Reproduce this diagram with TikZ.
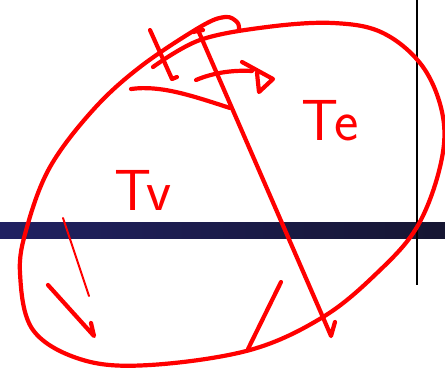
\documentclass[tikz,border=0pt]{standalone}
\usepackage{tikz}
\usetikzlibrary{calc}

\definecolor{barleft}{RGB}{32,33,98}
\definecolor{barright}{RGB}{22,22,50}

\tikzset{
    pen/.style={red, line width=4.2pt, line cap=round, line join=round},
    thinpen/.style={red, line width=2pt, line cap=round, line join=round},
    label/.style={red, inner sep=0pt, font=\sffamily\fontsize{58}{58}\selectfont}
}

\begin{document}
\begin{tikzpicture}[x=1pt,y=-1pt]
    %----------------------------------------
    % FRAME (445 x 376, y pointing down)
    %----------------------------------------
    \useasboundingbox (0,0) rectangle (445,376);

    % dark bar across the page
    \shade[left color=barleft, right color=barright] (0,222) rectangle (445,238);

    % black vertical line on the right
    \draw[black, line width=2.4pt] (417,0) -- (417,285);

    %----------------------------------------
    % BIG LOOP (one stroke, open at the top)
    %----------------------------------------
    \draw[pen] plot[smooth, tension=0.6] coordinates {
        (153,67) (200,40) (267,27) (333,23) (383,33) (423,67)
        (443,117) (440,167) (417,227) (377,273) (323,317)
        (250,350) (150,365) (83,360) (33,330) (20,273) (27,227)
        (50,167) (93,110) (140,67) (200,27) (225,17) (237,22) (239,29)
    };

    % dividing stroke with a hook at the end
    \draw[pen] (193,32) -- (203,30);
    \draw[pen] (198,30) -- (325,322) -- (331,336) -- (335,322);

    % cross mark near the top
    \draw[pen] (150,30) -- (172,79) -- (177,77);

    %----------------------------------------
    % ARROWS
    %----------------------------------------
    % pointing left
    \draw[pen] (230,108) .. controls (190,95) and (160,85) .. (131,89);
    % pointing right
    \draw[pen] (196,80) .. controls (215,72) and (235,70) .. (252,71);
    \draw[pen] (242,62) -- (273,79) -- (259,92) -- (257,73);

    % down-left, thin line then a hooked stroke
    \draw[thinpen] (63,218) -- (89,296);
    \draw[pen] (48,285) -- (94,336) -- (91,323);

    % bottom right stroke
    \draw[pen] (281,282) -- (248,349);

    %----------------------------------------
    % LABELS
    %----------------------------------------
    \node[label] (Tv) at (143,190) {Tv};
    \node[label] (Te) at (330,121) {Te};
\end{tikzpicture}
\end{document}
